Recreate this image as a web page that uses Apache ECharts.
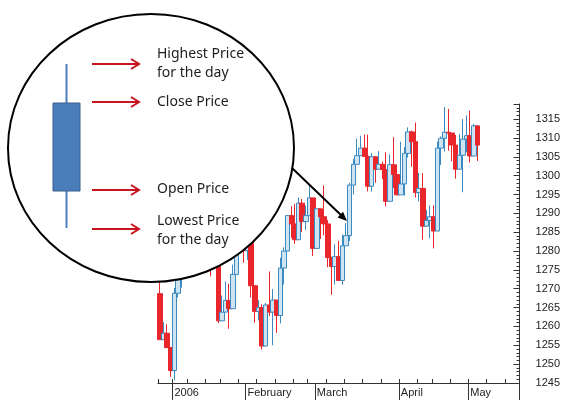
<!DOCTYPE html>
<html>
<head>
<meta charset="utf-8">
<script src="https://cdn.jsdelivr.net/npm/echarts@6/dist/echarts.min.js"></script>
<style>
html, body { margin: 0; padding: 0; background: #fff; }
#chart { width: 563px; height: 401px; }
</style>
</head>
<body>
<div id="chart"></div>
<script>
// trading days shown on the axis (the last ones are still empty)
var days = [
	'2005-12-27', '2005-12-28', '2005-12-29', '2005-12-30',
	'2006-01-03', '2006-01-04', '2006-01-05', '2006-01-06', '2006-01-09', '2006-01-10', '2006-01-11', '2006-01-12', '2006-01-13',
	'2006-01-17', '2006-01-18', '2006-01-19', '2006-01-20', '2006-01-23', '2006-01-24', '2006-01-25', '2006-01-26', '2006-01-27',
	'2006-01-30', '2006-01-31',
	'2006-02-01', '2006-02-02', '2006-02-03', '2006-02-06', '2006-02-07', '2006-02-08', '2006-02-09', '2006-02-10', '2006-02-13',
	'2006-02-14', '2006-02-15', '2006-02-16', '2006-02-17', '2006-02-21', '2006-02-22', '2006-02-23', '2006-02-24', '2006-02-27',
	'2006-02-28',
	'2006-03-01', '2006-03-02', '2006-03-03', '2006-03-06', '2006-03-07', '2006-03-08', '2006-03-09', '2006-03-10', '2006-03-13',
	'2006-03-14', '2006-03-15', '2006-03-16', '2006-03-17', '2006-03-20', '2006-03-21', '2006-03-22', '2006-03-23', '2006-03-24',
	'2006-03-27', '2006-03-28', '2006-03-29', '2006-03-30', '2006-03-31',
	'2006-04-03', '2006-04-04', '2006-04-05', '2006-04-06', '2006-04-07', '2006-04-10', '2006-04-11', '2006-04-12', '2006-04-13',
	'2006-04-17', '2006-04-18', '2006-04-19', '2006-04-20', '2006-04-21', '2006-04-24', '2006-04-25', '2006-04-26', '2006-04-27',
	'2006-04-28',
	'2006-05-01', '2006-05-02', '2006-05-03',
	'2006-05-04', '2006-05-05', '2006-05-08', '2006-05-09', '2006-05-10', '2006-05-11', '2006-05-12', '2006-05-15', '2006-05-16',
	'2006-05-17', '2006-05-18'
];

var opens = [
	1268.7, 1256.5, 1258.2, 1254.4,
	1248.3, 1268.8, 1273.5, 1273.5, 1285.5, 1290.2, 1289.7, 1294.2, 1286.1,
	1287.6, 1282.9, 1277.9, 1285.0, 1261.5, 1263.8, 1266.9, 1264.7, 1273.8,
	1283.7, 1285.2,
	1280.1, 1282.5, 1270.8, 1264.0, 1265.0, 1254.8, 1265.7, 1263.8, 1267.0,
	1262.9, 1275.5, 1280.0, 1289.4, 1287.2, 1283.0, 1292.7, 1287.8, 1289.4,
	1294.1,
	1280.7, 1291.2, 1289.1, 1287.2, 1278.3, 1275.9, 1278.5, 1272.2, 1281.4,
	1284.1, 1297.5, 1303.0, 1305.3, 1307.3, 1305.1, 1297.2, 1305.0, 1301.7,
	1303.0, 1301.6, 1293.2, 1302.9, 1300.3,
	1294.9, 1297.8, 1305.9, 1311.6, 1309.0, 1295.5, 1296.6, 1286.6, 1288.1,
	1289.1, 1285.3, 1307.3, 1309.9, 1311.5, 1311.3, 1308.1, 1301.7, 1305.4,
	1309.7,
	1310.6, 1305.2, 1313.2
];
var closes = [
	1256.5, 1258.2, 1254.4, 1248.3,
	1268.8, 1273.5, 1273.5, 1285.5, 1290.2, 1289.7, 1294.2, 1286.1, 1287.6,
	1282.9, 1277.9, 1285.0, 1261.5, 1263.8, 1266.9, 1264.7, 1273.8, 1283.7,
	1285.2, 1280.1,
	1282.5, 1270.8, 1264.0, 1265.0, 1254.8, 1265.7, 1263.8, 1267.0, 1262.9,
	1275.5, 1280.0, 1289.4, 1287.2, 1283.0, 1292.7, 1287.8, 1289.4, 1294.1,
	1280.7,
	1291.2, 1289.1, 1287.2, 1278.3, 1275.9, 1278.5, 1272.2, 1281.4, 1284.1,
	1297.5, 1303.0, 1305.3, 1307.3, 1305.1, 1297.2, 1305.0, 1301.7, 1303.0,
	1301.6, 1293.2, 1302.9, 1300.3, 1294.9,
	1297.8, 1305.9, 1311.6, 1309.0, 1295.5, 1296.6, 1286.6, 1288.1, 1289.1,
	1285.3, 1307.3, 1309.9, 1311.5, 1311.3, 1308.1, 1301.7, 1305.4, 1309.7,
	1310.6,
	1305.2, 1313.2, 1308.1
];
var lows = [
	1256.5, 1256.5, 1254.2, 1246.6,
	1245.7, 1267.7, 1270.3, 1273.5, 1284.8, 1283.8, 1288.1, 1285.0, 1283.5,
	1278.6, 1273.3, 1277.9, 1260.9, 1261.5, 1263.8, 1259.4, 1264.7, 1273.8,
	1283.7, 1276.9,
	1277.6, 1267.7, 1261.0, 1261.6, 1253.9, 1254.8, 1262.8, 1255.0, 1258.3,
	1260.8, 1271.1, 1280.0, 1283.5, 1281.9, 1283.0, 1285.1, 1285.6, 1289.4,
	1278.7,
	1280.7, 1283.2, 1284.2, 1275.7, 1268.4, 1271.1, 1272.2, 1271.1, 1281.4,
	1282.7, 1295.0, 1303.0, 1305.3, 1305.1, 1295.8, 1295.8, 1298.1, 1301.7,
	1299.1, 1291.8, 1293.2, 1296.7, 1294.9,
	1294.9, 1294.7, 1304.8, 1302.4, 1294.2, 1293.2, 1283.0, 1286.5, 1283.4,
	1280.7, 1285.3, 1302.8, 1306.4, 1306.6, 1303.8, 1299.2, 1301.7, 1295.6,
	1306.2,
	1303.5, 1305.2, 1303.9
];
var highs = [
	1271.8, 1261.1, 1260.6, 1254.4,
	1270.2, 1275.4, 1276.9, 1286.1, 1290.8, 1290.2, 1294.9, 1294.2, 1289.8,
	1287.6, 1282.9, 1287.8, 1285.0, 1268.2, 1271.9, 1271.3, 1276.4, 1286.4,
	1287.2, 1285.2,
	1284.0, 1282.5, 1270.9, 1267.0, 1265.9, 1266.2, 1274.6, 1269.9, 1267.0,
	1278.2, 1281.0, 1289.5, 1291.9, 1292.5, 1294.2, 1293.8, 1292.1, 1297.6,
	1294.1,
	1291.3, 1291.2, 1297.4, 1288.2, 1278.3, 1281.8, 1282.7, 1284.4, 1287.4,
	1298.1, 1304.4, 1309.8, 1310.6, 1310.9, 1310.9, 1306.0, 1305.0, 1306.5,
	1303.7, 1306.2, 1305.6, 1310.2, 1303.0,
	1309.0, 1307.6, 1312.8, 1312.0, 1314.1, 1300.7, 1300.7, 1290.9, 1292.1,
	1292.1, 1309.0, 1310.4, 1318.2, 1317.7, 1311.3, 1310.8, 1311.0, 1315.0,
	1316.0,
	1317.2, 1313.7, 1313.2
];

var monthNames = ['January', 'February', 'March', 'April', 'May', 'June'];

// echarts 的 candlestick 数据顺序: [open, close, lowest, highest]
var candles = [];
for (var i = 0; i < closes.length; i++) {
	candles.push([opens[i], closes[i], lows[i], highs[i]]);
}

function dayOfWeek(s) {
	return new Date(s + 'T00:00:00Z').getUTCDay();
}
// 每周第一个交易日打短刻度
function isWeekStart(idx) {
	if (idx === 0) return true;
	return dayOfWeek(days[idx]) <= dayOfWeek(days[idx - 1]);
}
// 每月第一个交易日打长刻度和标签
function isMonthStart(idx) {
	if (idx === 0) return false;
	return days[idx].substr(5, 2) !== days[idx - 1].substr(5, 2);
}

var chart = echarts.init(document.getElementById('chart'));

var red = '#c8141e';
function redArrow(y) {
	return [{
		type: 'line', z: 110,
		shape: { x1: 92, y1: y, x2: 139, y2: y },
		style: { stroke: red, lineWidth: 2 }
	}, {
		type: 'polyline', z: 110,
		shape: { points: [[131, y - 5], [139, y], [131, y + 5]] },
		style: { stroke: red, lineWidth: 2, fill: null }
	}];
}
function note(x, y, txt) {
	return {
		type: 'text', z: 110, x: x, y: y,
		style: {
			text: txt, fill: '#1e1e1e', font: '14px "Noto Sans", sans-serif',
			verticalAlign: 'middle'
		}
	};
}

var graphics = [
	// 放大圆
	{
		type: 'ellipse', z: 100,
		shape: { cx: 151, cy: 148, rx: 143, ry: 134 },
		style: { fill: '#fff', stroke: '#000', lineWidth: 2 }
	},
	// 指向K线的黑色箭头
	{
		type: 'line', z: 101,
		shape: { x1: 292, y1: 168, x2: 343, y2: 217 },
		style: { stroke: '#000', lineWidth: 2 }
	},
	{
		type: 'polygon', z: 101,
		shape: { points: [[347, 221], [337.5, 217.5], [343, 211.8]] },
		style: { fill: '#000' }
	},
	// 示意K线
	{
		type: 'line', z: 110,
		shape: { x1: 66.5, y1: 64, x2: 66.5, y2: 228 },
		style: { stroke: '#4a7ebb', lineWidth: 2 }
	},
	{
		type: 'rect', z: 111,
		shape: { x: 53, y: 103, width: 27, height: 88 },
		style: { fill: '#4a7ebb', stroke: '#3a5f8e', lineWidth: 1 }
	},
	note(157, 54, 'Highest Price'),
	note(157, 73, 'for the day'),
	note(157, 102, 'Close Price'),
	note(157, 189, 'Open Price'),
	note(157, 221, 'Lowest Price'),
	note(157, 240, 'for the day')
];
graphics = graphics.concat(redArrow(64), redArrow(102), redArrow(190), redArrow(229));

var option = {
	animation: false,
	backgroundColor: '#fff',
	grid: { left: 158, right: 42, top: 104, bottom: 18 },
	xAxis: [{
		type: 'category',
		data: days,
		boundaryGap: true,
		axisLine: { lineStyle: { color: '#333', width: 1 } },
		axisTick: { show: true, inside: true, length: 4, interval: isWeekStart, lineStyle: { color: '#333' } },
		axisLabel: { show: false },
		splitLine: { show: false }
	}, {
		type: 'category',
		data: days,
		position: 'bottom',
		boundaryGap: true,
		axisLine: { show: false },
		axisTick: { show: true, length: 17, interval: isMonthStart, lineStyle: { color: '#333' } },
		axisLabel: {
			show: true,
			interval: isMonthStart,
			align: 'left',
			margin: 4,
			color: '#222',
			fontSize: 11,
			fontFamily: 'Liberation Sans',
			formatter: function(v) {
				var m = parseInt(v.substr(5, 2), 10) - 1;
				return m === 0 ? v.substr(0, 4) : monthNames[m];
			}
		},
		splitLine: { show: false }
	}],
	yAxis: [{
		type: 'value',
		position: 'right',
		min: 1245,
		max: 1319,
		interval: 5,
		axisLine: { show: true, lineStyle: { color: '#333' } },
		axisTick: { show: true, inside: true, length: 6, lineStyle: { color: '#333' } },
		minorTick: { show: true, splitNumber: 5, length: 3, lineStyle: { color: '#333' } },
		axisLabel: {
			margin: 16, color: '#222', fontSize: 11, fontFamily: 'Liberation Sans',
			showMaxLabel: false,
			formatter: function(v) { return String(v); }
		},
		splitLine: { show: false }
	}],
	series: [{
		type: 'candlestick',
		xAxisIndex: 0,
		yAxisIndex: 0,
		data: candles,
		barWidth: 5,
		itemStyle: {
			color: '#cfe4f3',
			color0: '#e8262b',
			borderColor: '#3b8ac0',
			borderColor0: '#e8262b',
			borderWidth: 1
		}
	}],
	graphic: { elements: graphics }
};

chart.setOption(option);
</script>
</body>
</html>
